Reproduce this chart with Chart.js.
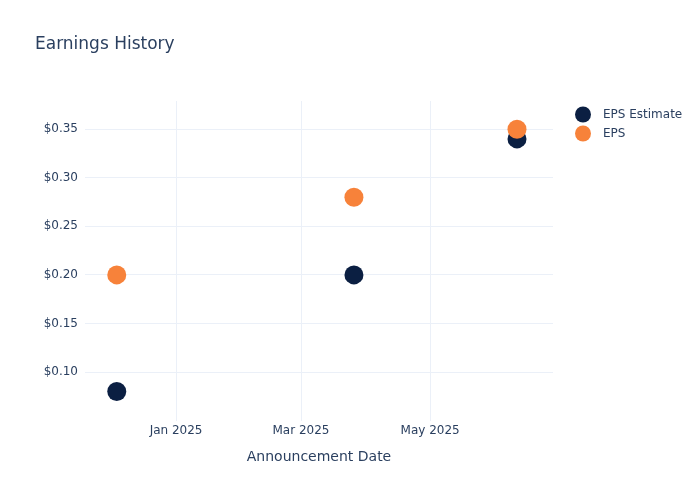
<!DOCTYPE html>
<html>
<head>
<meta charset="utf-8">
<script src="https://cdn.jsdelivr.net/npm/chart.js@4"></script>
<style>
  html, body { margin: 0; padding: 0; background: #fff; }
  #wrap { width: 700px; height: 500px; position: relative; }
</style>
</head>
<body>
<div id="wrap"><canvas id="earningsChart"></canvas></div>
<script>
// Chart data
var announceDates = ['2024-12-04', '2025-03-26', '2025-06-11'];
var epsEstimate = [0.08, 0.20, 0.34];
var epsActual = [0.20, 0.28, 0.35];
var xTickDates = ['2025-01-01', '2025-03-01', '2025-05-01'];
var xTickLabels = ['Jan 2025', 'Mar 2025', 'May 2025'];
var yTicks = [0.10, 0.15, 0.20, 0.25, 0.30, 0.35];
var xRange = ['2024-11-19', '2025-06-28'];
var yRange = [0.0496, 0.379];

var TEXT = '#2a3f5f';
var GRID = '#ebf0f8';
var FONT = '"DejaVu Sans", Verdana, sans-serif';

// days since epoch, so a plain linear axis works without a date adapter
function toDay(s) {
    var p = s.split('-');
    return Date.UTC(+p[0], +p[1] - 1, +p[2]) / 86400000;
}

function points(values) {
    return values.map(function(v, i) {
        return {x: toDay(announceDates[i]), y: v};
    });
}

// title and legend drawn in the plotly spots
var decorPlugin = {
    id: 'decor',
    afterDraw: function(chart) {
        var ctx = chart.ctx;
        ctx.save();
        ctx.fillStyle = TEXT;
        ctx.font = '17px ' + FONT;
        ctx.textBaseline = 'middle';
        ctx.textAlign = 'left';
        ctx.fillText('Earnings History', 35, 45);

        ctx.font = '12px ' + FONT;
        chart.data.datasets.forEach(function(ds, i) {
            var y = 114.5 + i * 19;
            ctx.beginPath();
            ctx.arc(583, y, 8, 0, Math.PI * 2);
            ctx.fillStyle = ds.backgroundColor;
            ctx.fill();
            ctx.fillStyle = TEXT;
            ctx.fillText(ds.label, 603, y);
        });
        ctx.restore();
    }
};

new Chart(document.getElementById('earningsChart'), {
    type: 'scatter',
    data: {
        datasets: [{
            label: 'EPS Estimate',
            data: points(epsEstimate),
            backgroundColor: '#0b1f42',
            borderWidth: 0,
            pointRadius: 9.5,
            pointHoverRadius: 9.5,
            order: 1
        }, {
            label: 'EPS',
            data: points(epsActual),
            backgroundColor: '#f7823a',
            borderWidth: 0,
            pointRadius: 9.5,
            pointHoverRadius: 9.5,
            order: 0
        }]
    },
    options: {
        responsive: true,
        maintainAspectRatio: false,
        animation: false,
        layout: {
            padding: {left: 0, right: 147, top: 101, bottom: 30}
        },
        plugins: {
            legend: {display: false},
            tooltip: {enabled: false}
        },
        scales: {
            x: {
                type: 'linear',
                min: toDay(xRange[0]),
                max: toDay(xRange[1]),
                afterBuildTicks: function(scale) {
                    scale.ticks = xTickDates.map(function(d) { return {value: toDay(d)}; });
                },
                afterFit: function(scale) { scale.height = 49; },
                ticks: {
                    color: TEXT,
                    font: {family: FONT, size: 12},
                    padding: 3,
                    maxRotation: 0,
                    callback: function(value) {
                        var i = xTickDates.map(toDay).indexOf(value);
                        return i >= 0 ? xTickLabels[i] : '';
                    }
                },
                grid: {color: GRID, drawTicks: false},
                border: {display: false},
                title: {
                    display: true,
                    text: 'Announcement Date',
                    color: TEXT,
                    font: {family: FONT, size: 14},
                    padding: {top: 12}
                }
            },
            y: {
                min: yRange[0],
                max: yRange[1],
                afterBuildTicks: function(scale) {
                    scale.ticks = yTicks.map(function(v) { return {value: v}; });
                },
                afterFit: function(scale) { scale.width = 85; },
                ticks: {
                    color: TEXT,
                    font: {family: FONT, size: 12},
                    padding: 7,
                    callback: function(value) { return '$' + value.toFixed(2); }
                },
                grid: {color: GRID, drawTicks: false},
                border: {display: false}
            }
        }
    },
    plugins: [decorPlugin]
});
</script>
</body>
</html>
